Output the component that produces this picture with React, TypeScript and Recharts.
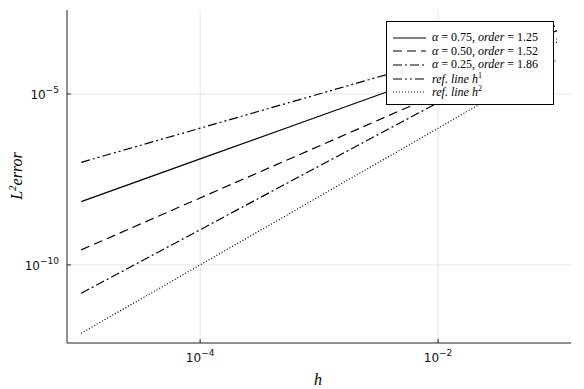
import { CartesianGrid, Legend, Line, LineChart, XAxis, YAxis } from "recharts";

// step sizes h and the L2 errors (log-log)
const hValues = [1e-5, 1e-4, 1e-3, 1e-2, 1e-1];
const alpha075 = [7.1e-9, 1.26e-7, 2.24e-6, 3.98e-5, 7.1e-4];
const alpha050 = [2.75e-10, 9.1e-9, 3.0e-7, 1.0e-5, 3.3e-4];
const alpha025 = [1.48e-11, 1.07e-9, 7.8e-8, 5.6e-6, 4.1e-4];
const refH1 = [1e-7, 1e-6, 1e-5, 1e-4, 1e-3];
const refH2 = [1e-12, 1e-10, 1e-8, 1e-6, 1e-4];

const xTicks = [1e-4, 1e-2];
const xTickExp = ["−4", "−2"];
const yTicks = [1e-10, 1e-5];
const yTickExp = ["−10", "−5"];

const data = hValues.map((h, i) => ({
  h,
  a075: alpha075[i],
  a050: alpha050[i],
  a025: alpha025[i],
  ref1: refH1[i],
  ref2: refH2[i],
}));

const SERIF = "'Liberation Serif', 'DejaVu Serif', serif";
const SANS = "'DejaVu Sans', sans-serif";

type SeriesDef = { key: string; dash?: string; alpha?: string; order?: string; refPow?: string };

const series: SeriesDef[] = [
  { key: "a075", alpha: "0.75", order: "1.25" },
  { key: "a050", dash: "9 5", alpha: "0.50", order: "1.52" },
  { key: "a025", dash: "9 3 2 3", alpha: "0.25", order: "1.86" },
  { key: "ref1", dash: "9 3 2 3 2 3", refPow: "1" },
  { key: "ref2", dash: "1 2", refPow: "2" },
];

function XTick(props: any) {
  const { x, y, index } = props;
  return (
    <g>
      <line x1={x} x2={x} y1={y} y2={y - 4} stroke="#222" />
      <text x={x} y={y + 19} textAnchor="middle" fontFamily={SANS} fontSize={12} fill="#111">
        <tspan>10</tspan>
        <tspan dy={-6} fontSize={9}>{xTickExp[index]}</tspan>
      </text>
    </g>
  );
}

function YTick(props: any) {
  const { x, y, index } = props;
  return (
    <g>
      <line x1={x} x2={x + 4} y1={y} y2={y} stroke="#222" />
      <text x={x - 8} y={y + 5} textAnchor="end" fontFamily={SANS} fontSize={12} fill="#111">
        <tspan>10</tspan>
        <tspan dy={-6} fontSize={9}>{yTickExp[index]}</tspan>
      </text>
    </g>
  );
}

function LegendBox() {
  return (
    <div
      style={{
        width: 168,
        height: 84,
        border: "1px solid #000",
        background: "#fff",
        padding: "9px 0 0 6px",
        boxSizing: "border-box",
        fontFamily: SERIF,
        fontSize: 12,
        color: "#000",
      }}
    >
      {series.map((s) => (
        <div key={s.key} style={{ display: "flex", alignItems: "center", height: 13.6 }}>
          <svg width={33} height={6} style={{ marginRight: 6 }}>
            <line x1={0} x2={33} y1={3} y2={3} stroke="#000" strokeWidth={1.2} strokeDasharray={s.dash} />
          </svg>
          {s.alpha ? (
            <span style={{ whiteSpace: "nowrap" }}>
              <i>α</i> = {s.alpha}, <i>order</i> = {s.order}
            </span>
          ) : (
            <span style={{ whiteSpace: "nowrap" }}>
              <i>ref. line h</i>
              <sup style={{ fontSize: 8 }}>{s.refPow}</sup>
            </span>
          )}
        </div>
      ))}
    </div>
  );
}

export default function App() {
  return (
    <div style={{ position: "absolute", left: 0, top: 0, background: "#fff" }}>
      <LineChart width={584} height={389} data={data} margin={{ top: 10, right: 13, bottom: 0, left: 0 }}>
        <CartesianGrid stroke="#e6e6e6" horizontalValues={yTicks} verticalValues={xTicks} />
        <XAxis
          dataKey="h"
          type="number"
          scale="log"
          domain={[7.6e-6, 0.131]}
          allowDataOverflow
          ticks={xTicks}
          tick={<XTick />}
          tickLine={false}
          tickSize={0}
          tickMargin={0}
          height={46}
          stroke="#222"
          label={{
            content: () => (
              <text x={318} y={385} textAnchor="middle" fontFamily={SERIF} fontStyle="italic" fontSize={16}>
                h
              </text>
            ),
          }}
        />
        <YAxis
          type="number"
          scale="log"
          domain={[5.2e-13, 2.86e-3]}
          allowDataOverflow
          ticks={yTicks}
          tick={<YTick />}
          tickLine={false}
          tickSize={0}
          tickMargin={0}
          width={67}
          stroke="#222"
          label={{
            content: () => (
              <text
                x={22}
                y={176}
                transform="rotate(-90 22 176)"
                textAnchor="middle"
                fontFamily={SERIF}
                fontStyle="italic"
                fontSize={16}
              >
                <tspan>L</tspan>
                <tspan dy={-6} fontSize={11}>2</tspan>
                <tspan dy={6}>error</tspan>
              </text>
            ),
          }}
        />
        <Legend
          content={<LegendBox />}
          verticalAlign="middle"
          layout="horizontal"
          wrapperStyle={{ left: 386, top: 21, width: 168 }}
        />
        {series.map((s) => (
          <Line
            key={s.key}
            dataKey={s.key}
            type="linear"
            stroke="#000"
            strokeWidth={1.2}
            strokeDasharray={s.dash}
            dot={false}
            isAnimationActive={false}
          />
        ))}
      </LineChart>
    </div>
  );
}
